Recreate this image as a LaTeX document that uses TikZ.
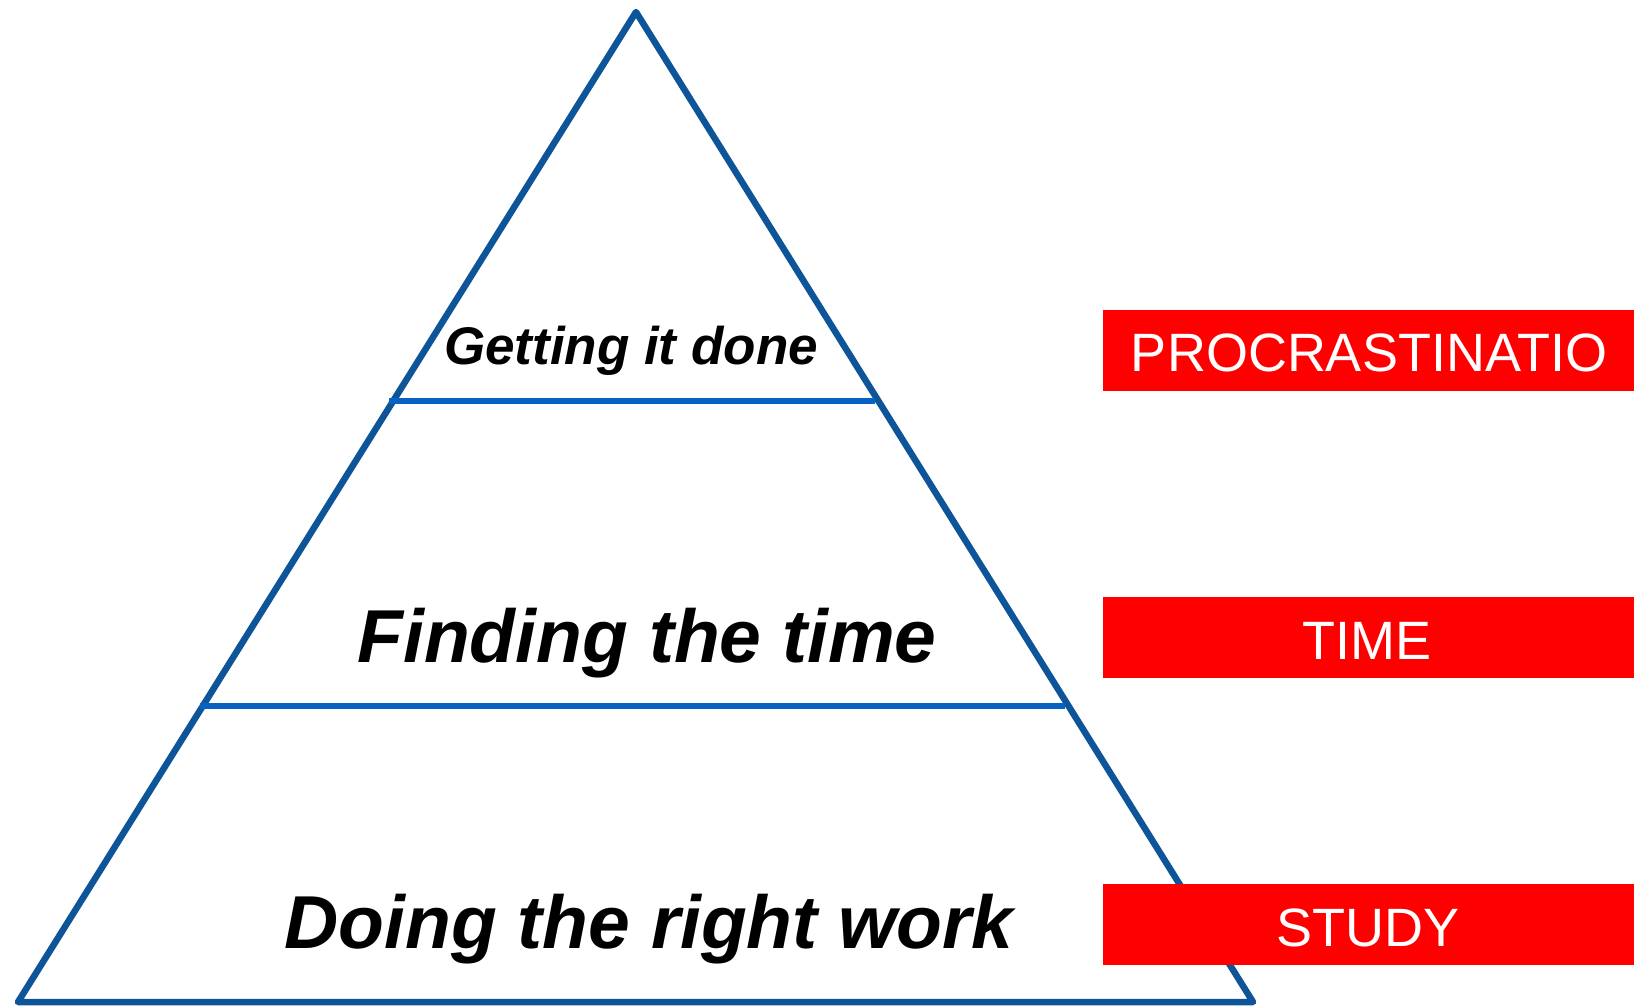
\documentclass[tikz,border=0pt]{standalone}
\usepackage{fontspec}
\setmainfont{Liberation Sans}
\definecolor{tri}{RGB}{14,84,152}
\definecolor{tier}{RGB}{8,98,196}
\definecolor{boxred}{RGB}{255,0,0}
\begin{document}
\begin{tikzpicture}[x=1pt,y=-1pt,
  triline/.style={draw=tri,line width=6.5pt,line join=round,line cap=round},
  tierline/.style={draw=tier,line width=6pt},
  tiertext/.style={anchor=base,inner sep=0pt},
  redbox/.style={fill=boxred,minimum width=531pt,minimum height=81pt,inner sep=0pt},
  redtext/.style={text=white,font=\fontsize{54}{54}\selectfont,anchor=base,inner sep=0pt}]
\useasboundingbox (0,0) rectangle (1634,1008);
\coordinate (apex) at (636,12);
\coordinate (bl) at (18,1002);
\coordinate (br) at (1253,1002);
\draw[triline] (apex) -- (br) -- (bl) -- cycle;
\coordinate (t1l) at (389,401);
\coordinate (t1r) at (875,401);
\coordinate (t2l) at (200,706);
\coordinate (t2r) at (1065,706);
\draw[tierline] (t1l) -- (t1r);
\draw[tierline] (t2l) -- (t2r);
\node[tiertext,font=\fontsize{53}{53}\selectfont\bfseries\itshape] (top) at (631,365) {Getting it done};
\node[tiertext,font=\fontsize{75}{75}\selectfont\bfseries\itshape] (mid) at (647,662) {Finding the time};
\node[tiertext,font=\fontsize{75}{75}\selectfont\bfseries\itshape] (bot) at (649,948) {Doing the right work};
\node[redbox] (b1) at (1368.5,350.5) {};
\node[redbox] (b2) at (1368.5,637) {};
\node[redbox] (b3) at (1368.5,924.5) {};
\node[redtext] (l1) at (1369,372) {PROCRASTINATIO};
\node[redtext] (l2) at (1367,659) {TIME};
\node[redtext] (l3) at (1368,946) {STUDY};
\end{tikzpicture}
\end{document}
